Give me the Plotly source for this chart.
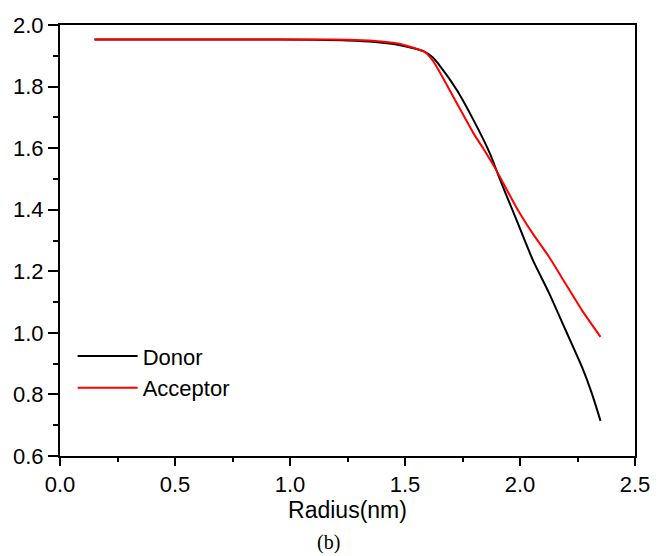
import plotly.graph_objects as go

donor_x = [0.15, 0.8, 1.1, 1.25, 1.37, 1.45, 1.51, 1.58, 1.62, 1.655, 1.726, 1.798, 1.869, 1.912, 1.983, 2.055, 2.126, 2.197, 2.269, 2.312, 2.35]
donor_y = [1.953, 1.953, 1.952, 1.950, 1.945, 1.938, 1.929, 1.915, 1.895, 1.864, 1.788, 1.691, 1.583, 1.500, 1.370, 1.238, 1.130, 1.011, 0.890, 0.804, 0.714]

acc_x = [0.15, 0.8, 1.1, 1.25, 1.37, 1.45, 1.51, 1.584, 1.62, 1.655, 1.726, 1.798, 1.841, 1.898, 1.983, 2.055, 2.126, 2.197, 2.269, 2.35]
acc_y = [1.953, 1.953, 1.953, 1.952, 1.948, 1.942, 1.932, 1.913, 1.885, 1.842, 1.745, 1.648, 1.598, 1.527, 1.409, 1.323, 1.247, 1.161, 1.074, 0.987]

x_ticks = [0.0, 0.5, 1.0, 1.5, 2.0, 2.5]
y_ticks = [0.6, 0.8, 1.0, 1.2, 1.4, 1.6, 1.8, 2.0]

fig = go.Figure()
fig.add_trace(go.Scatter(x=donor_x, y=donor_y, mode="lines", name="Donor",
                         line=dict(color="black", width=2, shape="spline", smoothing=0.6)))
fig.add_trace(go.Scatter(x=acc_x, y=acc_y, mode="lines", name="Acceptor",
                         line=dict(color="#ff0000", width=2, shape="spline", smoothing=0.5)))

font = "Liberation Sans, Arial, sans-serif"
axis_common = dict(showline=True, linecolor="black", linewidth=2, mirror=True,
                   ticks="outside", tickcolor="black", tickwidth=2,
                   showgrid=False, zeroline=False,
                   tickfont=dict(family=font, size=22, color="black"))

fig.update_layout(
    width=662, height=556,
    margin=dict(l=60, r=18, t=25, b=100),
    paper_bgcolor="white", plot_bgcolor="white",
    showlegend=True,
    legend=dict(x=0.022, y=0.28, xanchor="left", yanchor="top",
                bgcolor="rgba(0,0,0,0)", font=dict(family=font, size=22, color="black"),
                tracegroupgap=0, itemwidth=60),
    xaxis=dict(range=[0, 2.5], tickvals=x_ticks, ticktext=[f"{v:.1f}" for v in x_ticks],
               ticklen=8,
               minor=dict(tickvals=[0.25, 0.75, 1.25, 1.75, 2.25], ticks="outside", ticklen=4,
                          tickwidth=2, tickcolor="black"),
               title=dict(text="Radius(nm)", font=dict(family=font, size=23, color="black"), standoff=5),
               **axis_common),
    yaxis=dict(range=[0.6, 2.0], tickvals=y_ticks, ticktext=[f"{v:.1f}" for v in y_ticks],
               ticklen=10,
               minor=dict(tickvals=[0.7, 0.9, 1.1, 1.3, 1.5, 1.7, 1.9], ticks="outside", ticklen=5,
                          tickwidth=2, tickcolor="black"),
               **axis_common),
    annotations=[dict(text="(b)", xref="paper", yref="paper", x=0.467, y=-0.2,
                      xanchor="center", yanchor="middle", showarrow=False,
                      font=dict(family="Liberation Serif, Times New Roman, serif", size=20, color="black"))],
)

fig.write_html("out.html")
